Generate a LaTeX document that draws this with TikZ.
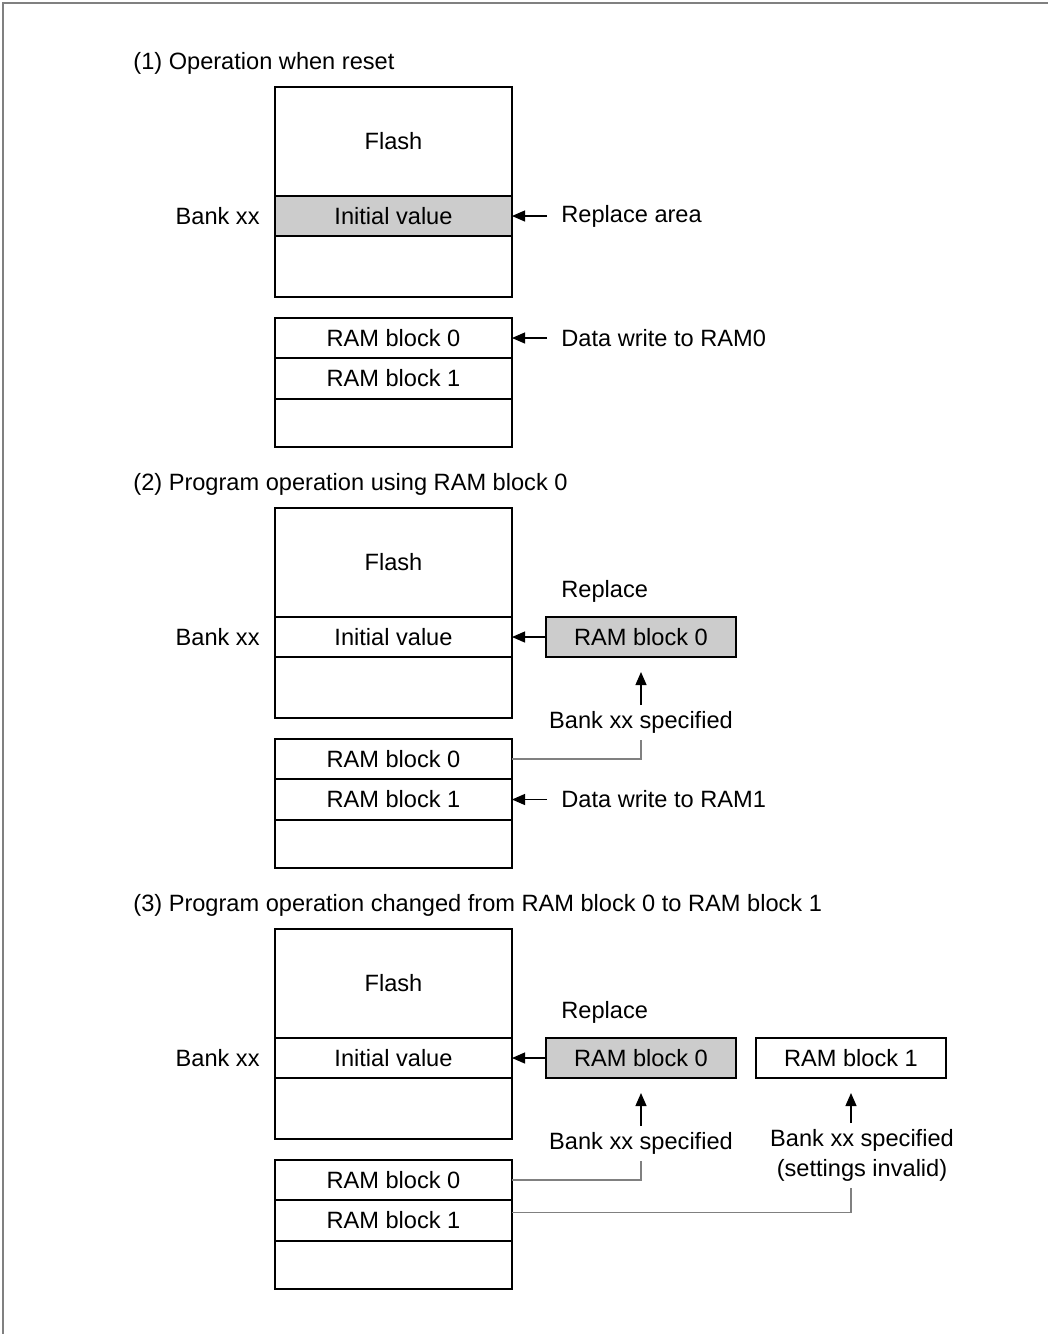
\documentclass[tikz,border=0pt]{standalone}
\usepackage{fontspec}
\setmainfont{Liberation Sans}
\usetikzlibrary{positioning,arrows.meta}

\tikzset{
  row/.style={draw, line width=1pt, minimum width=118.5pt, inner sep=0pt, outer sep=0pt, anchor=north west},
  sub/.style={draw, line width=1pt, minimum width=95pt, minimum height=20pt, inner sep=0pt, outer sep=0pt},
  lbl/.style={inner sep=0pt},
  note/.style={inner xsep=7pt, inner ysep=0pt},
  arr/.style={-{Triangle[length=6.5pt,width=5.5pt]}, line width=0.6pt},
  gline/.style={draw=gray, line width=0.6pt},
}

\begin{document}
\begin{tikzpicture}[x=0.5pt, y=0.5pt, font=\fontsize{11.8}{15}\selectfont]
  \useasboundingbox (0,0) rectangle (1048,-1334);
  % frame
  \draw[gray, line width=0.75pt] (3,-1334) -- (3,-3) -- (1048,-3);

  % the three memory maps
  \foreach \s/\dy/\ttl/\fc in {1/0/{(1) Operation when reset}/gray!40,
      2/421/{(2) Program operation using RAM block 0}/white,
      3/842/{(3) Program operation changed from RAM block 0 to RAM block 1}/white}{
    \node[lbl, anchor=west] (title\s) at (133,-63-\dy) {\ttl};
    \node[row, minimum height=54.5pt] (flash\s) at (275,-87-\dy) {Flash};
    \node[row, minimum height=20pt, fill=\fc] (init\s) at (flash\s.south west) {Initial value};
    \node[row, minimum height=30.5pt] (free\s) at (init\s.south west) {};
    \node[lbl, anchor=east] (bank\s) at (260,-216-\dy) {Bank xx};
    \node[row, minimum height=20pt] (ramA\s) at (275,-318-\dy) {RAM block 0};
    \node[row, minimum height=20.5pt] (ramB\s) at (ramA\s.south west) {RAM block 1};
    \node[row, minimum height=24pt] (ramC\s) at (ramB\s.south west) {};
  }

  % (1)
  \node[note, right=17.5pt of init1] (repl1) {Replace area};
  \draw[arr] (repl1.west) -- (init1.east);
  \node[note, right=17.5pt of ramA1] (wr1) {Data write to RAM0};
  \draw[arr] (wr1.west) -- (ramA1.east);

  % (2)
  \node[sub, fill=gray!40, right=17pt of init2] (sub2) {RAM block 0};
  \node[lbl, anchor=south west] (rpl2) at ([xshift=7.5pt,yshift=7pt]sub2.north west) {Replace};
  \draw[arr] (sub2.west) -- (init2.east);
  \node[inner sep=3pt, below=24pt of sub2] (spec2) {Bank xx specified};
  \draw[arr] (spec2.north) -- ([yshift=-7.5pt]sub2.south);
  \draw[gline] (ramA2.east) -| (spec2.south);
  \node[note, right=17.5pt of ramB2] (wr2) {Data write to RAM1};
  \draw[arr] (wr2.west) -- (ramB2.east);

  % (3)
  \node[sub, fill=gray!40, right=17pt of init3] (sub3) {RAM block 0};
  \node[sub, right=10pt of sub3] (sub3b) {RAM block 1};
  \node[lbl, anchor=south west] (rpl3) at ([xshift=7.5pt,yshift=7pt]sub3.north west) {Replace};
  \draw[arr] (sub3.west) -- (init3.east);
  \node[inner sep=3pt, below=24pt of sub3] (spec3) {Bank xx specified};
  \draw[arr] (spec3.north) -- ([yshift=-7.5pt]sub3.south);
  \draw[gline] (ramA3.east) -| (spec3.south);
  \node[inner sep=3pt, align=center, below=22.5pt of sub3b, xshift=5.5pt] (spec3b) {Bank xx specified\\(settings invalid)};
  \draw[arr] (spec3b.north -| sub3b) -- ([yshift=-7.5pt]sub3b.south);
  \draw[gline] ([yshift=4pt]ramB3.east) -| (spec3b.south -| sub3b);
\end{tikzpicture}
\end{document}
